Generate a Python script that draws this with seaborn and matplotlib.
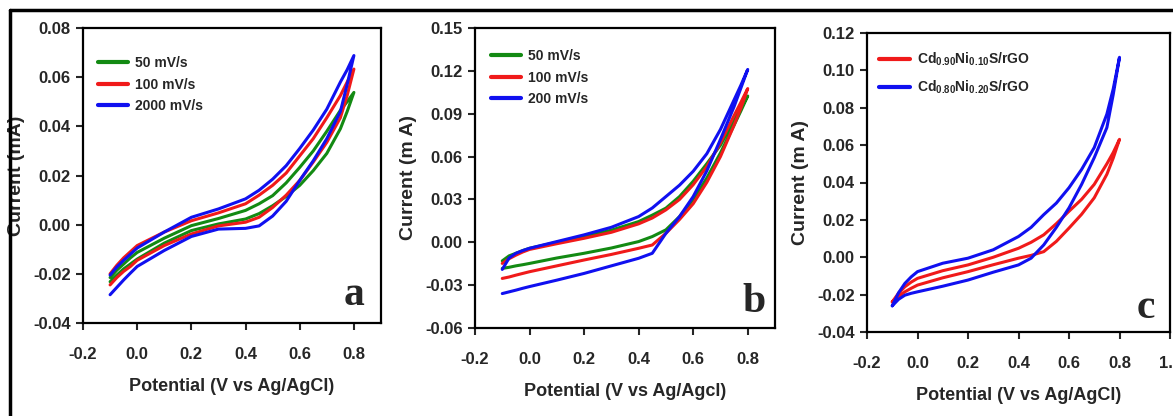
import numpy as np
import pandas as pd
import seaborn as sns
import matplotlib.pyplot as plt
from matplotlib.lines import Line2D

# potential grid (V vs Ag/AgCl), shared by every loop
potential = [-0.1, -0.075, -0.05, -0.025, 0.0, 0.1, 0.2, 0.3, 0.4, 0.45, 0.5, 0.55, 0.6, 0.65, 0.7, 0.75, 0.775, 0.8]

# panel a: scan rates, forward (upper) and reverse (lower) branches, mA
a_labels = ["50 mV/s", "100 mV/s", "2000 mV/s"]
a_50_up = [-0.0215, -0.0185, -0.016, -0.0135, -0.0113, -0.0055, -0.0004, 0.0025, 0.0058, 0.0085, 0.0118, 0.017, 0.0233, 0.030, 0.038, 0.0465, 0.050, 0.0538]
a_50_dn = [-0.0232, -0.0205, -0.018, -0.016, -0.014, -0.0075, -0.0024, 0.0003, 0.0023, 0.0045, 0.0077, 0.0115, 0.016, 0.022, 0.029, 0.039, 0.046, 0.0538]
a_100_up = [-0.020, -0.0165, -0.0135, -0.011, -0.0085, -0.003, 0.0016, 0.0048, 0.0085, 0.012, 0.016, 0.021, 0.028, 0.035, 0.0435, 0.0525, 0.058, 0.0633]
a_100_dn = [-0.0245, -0.0215, -0.019, -0.017, -0.0145, -0.0085, -0.0038, -0.0005, 0.001, 0.003, 0.007, 0.012, 0.018, 0.0255, 0.0335, 0.0435, 0.0525, 0.0633]
a_2000_up = [-0.0205, -0.0172, -0.0145, -0.012, -0.0095, -0.003, 0.003, 0.0064, 0.0105, 0.014, 0.0185, 0.024, 0.031, 0.0385, 0.047, 0.058, 0.063, 0.0688]
a_2000_dn = [-0.0285, -0.0255, -0.0225, -0.0197, -0.017, -0.0105, -0.0048, -0.0018, -0.0015, -0.0005, 0.0035, 0.0095, 0.018, 0.026, 0.035, 0.046, 0.057, 0.0688]

# panel b
b_labels = ["50 mV/s", "100 mV/s", "200 mV/s"]
b_50_up = [-0.013, -0.0095, -0.0077, -0.0058, -0.0042, 0.0, 0.004, 0.0085, 0.0145, 0.019, 0.0239, 0.032, 0.0427, 0.055, 0.068, 0.086, 0.094, 0.1024]
b_50_dn = [-0.0183, -0.0175, -0.0165, -0.0157, -0.0148, -0.011, -0.0077, -0.004, 0.0005, 0.004, 0.0087, 0.018, 0.0298, 0.045, 0.0626, 0.082, 0.092, 0.1024]
b_100_up = [-0.0148, -0.0115, -0.009, -0.0068, -0.005, -0.001, 0.0028, 0.007, 0.0129, 0.017, 0.0227, 0.030, 0.0403, 0.053, 0.0696, 0.0887, 0.098, 0.1076]
b_100_dn = [-0.0253, -0.0243, -0.023, -0.0218, -0.0206, -0.0165, -0.0124, -0.0085, -0.0042, -0.0019, 0.0063, 0.016, 0.027, 0.042, 0.060, 0.082, 0.094, 0.1076]
b_200_up = [-0.019, -0.011, -0.0077, -0.0058, -0.0042, 0.0005, 0.0052, 0.0105, 0.018, 0.024, 0.032, 0.040, 0.0497, 0.062, 0.079, 0.0997, 0.110, 0.121]
b_200_dn = [-0.0359, -0.0347, -0.0335, -0.0322, -0.031, -0.0265, -0.0218, -0.0165, -0.0112, -0.0077, 0.0063, 0.018, 0.032, 0.050, 0.072, 0.095, 0.108, 0.121]

# panel c: two compositions
c_labels = [r"Cd$_{0.90}$Ni$_{0.10}$S/rGO", r"Cd$_{0.80}$Ni$_{0.20}$S/rGO"]
c_10_up = [-0.0239, -0.0192, -0.0158, -0.0133, -0.0113, -0.0072, -0.0041, 0.0, 0.0048, 0.008, 0.012, 0.018, 0.0246, 0.031, 0.039, 0.050, 0.056, 0.0631]
c_10_dn = [-0.0239, -0.021, -0.0185, -0.0166, -0.0149, -0.011, -0.0077, -0.004, -0.0005, 0.001, 0.003, 0.0085, 0.0156, 0.023, 0.0318, 0.0444, 0.053, 0.0631]
c_20_up = [-0.026, -0.019, -0.014, -0.0105, -0.0077, -0.0032, -0.0005, 0.004, 0.0111, 0.016, 0.0228, 0.029, 0.0372, 0.047, 0.0587, 0.0766, 0.090, 0.107]
c_20_dn = [-0.026, -0.0225, -0.0203, -0.0193, -0.0185, -0.0155, -0.0122, -0.008, -0.0041, -0.0005, 0.0066, 0.016, 0.0264, 0.039, 0.0533, 0.0694, 0.087, 0.107]


def loop_frame(labels, branches):
    rows = []
    for lab, (up, dn) in zip(labels, branches):
        xs = list(potential) + list(potential[::-1])
        ys = list(up) + list(dn[::-1])
        for x, y in zip(xs, ys):
            rows.append({"Potential": x, "Current": y, "Series": lab})
    return pd.DataFrame(rows)


sns.set_style("white")
plt.rcParams["font.family"] = ["Liberation Sans", "DejaVu Sans"]
plt.rcParams["font.weight"] = "bold"
plt.rcParams["axes.labelweight"] = "bold"
plt.rcParams["axes.unicode_minus"] = False
plt.rcParams["mathtext.fontset"] = "custom"
plt.rcParams["mathtext.rm"] = "Liberation Sans:bold"
plt.rcParams["mathtext.bf"] = "Liberation Sans:bold"
plt.rcParams["mathtext.default"] = "rm"

GREEN, RED, BLUE = "#138a13", "#f01a1a", "#1010f0"

fig = plt.figure(figsize=(11.73, 4.16), dpi=100)
W, H = 1173, 416


def px_axes(l, r, t, b):
    return fig.add_axes([l / W, (H - b) / H, (r - l) / W, (b - t) / H])


panels = [
    dict(box=(83, 381, 28, 323), df=loop_frame(a_labels, [(a_50_up, a_50_dn), (a_100_up, a_100_dn), (a_2000_up, a_2000_dn)]),
         labels=a_labels, colors=[GREEN, RED, BLUE], ylim=(-0.04, 0.08), yticks=np.arange(-0.04, 0.081, 0.02),
         xlim=(-0.2, 0.9), xticks=[-0.2, 0.0, 0.2, 0.4, 0.6, 0.8], ylabel="Current (mA)", letter="a",
         letter_pos=(0.946, 0.06), leg=(0.05, 0.905), spacing=0.55),
    dict(box=(475, 775, 28, 328), df=loop_frame(b_labels, [(b_50_up, b_50_dn), (b_100_up, b_100_dn), (b_200_up, b_200_dn)]),
         labels=b_labels, colors=[GREEN, RED, BLUE], ylim=(-0.06, 0.15), yticks=np.arange(-0.06, 0.151, 0.03),
         xlim=(-0.2, 0.9), xticks=[-0.2, 0.0, 0.2, 0.4, 0.6, 0.8], ylabel="Current (m A)", letter="b",
         letter_pos=(0.97, 0.053), leg=(0.052, 0.93), spacing=0.55),
    dict(box=(867, 1170, 33, 332), df=loop_frame(c_labels, [(c_10_up, c_10_dn), (c_20_up, c_20_dn)]),
         labels=c_labels, colors=[RED, BLUE], ylim=(-0.04, 0.12), yticks=np.arange(-0.04, 0.121, 0.02),
         xlim=(-0.2, 1.0), xticks=[-0.2, 0.0, 0.2, 0.4, 0.6, 0.8, 1.0], ylabel="Current (m A)", letter="c",
         letter_pos=(0.95, 0.047), leg=(0.04, 0.94), spacing=0.75),
]

for p in panels:
    ax = px_axes(*p["box"])
    sns.lineplot(data=p["df"], x="Potential", y="Current", hue="Series", hue_order=p["labels"],
                 palette=p["colors"], sort=False, estimator=None, lw=2.2, ax=ax)
    ax.set_xlim(*p["xlim"])
    ax.set_ylim(*p["ylim"])
    ax.set_xticks(p["xticks"])
    ax.set_xticklabels([f"{v:.1f}" for v in p["xticks"]])
    ax.set_yticks(p["yticks"])
    ax.set_yticklabels([f"{v:.2f}" for v in p["yticks"]])
    ax.tick_params(axis="both", direction="out", length=5, width=1.5, labelsize=12,
                   top=False, right=False, left=True, bottom=True)
    ax.tick_params(axis="x", pad=12)
    ax.tick_params(axis="y", pad=4)
    for s in ax.spines.values():
        s.set_visible(True)
        s.set_linewidth(1.6)
        s.set_color("black")
    ax.set_xlabel("Potential (V vs Ag/AgCl)" if p["letter"] != "b" else "Potential (V vs Ag/Agcl)",
                  fontsize=13, labelpad=12)
    ax.set_ylabel(p["ylabel"], fontsize=14, labelpad=6)
    handles, labels = ax.get_legend_handles_labels()
    for h in handles:
        h.set_linewidth(3)
    ax.legend(handles, labels, loc="upper left", bbox_to_anchor=p["leg"], frameon=False,
              handlelength=2.2, handletextpad=0.5, labelspacing=p["spacing"],
              borderpad=0, borderaxespad=0, prop={"weight": "bold", "size": 10})
    ax.text(p["letter_pos"][0], p["letter_pos"][1], p["letter"], transform=ax.transAxes,
            ha="right", va="baseline", fontsize=30, fontweight="bold",
            family=["Liberation Serif", "DejaVu Serif"])

# outer frame lines at top and left
fig.add_artist(Line2D([10 / W, 1.0], [1 - 10 / H, 1 - 10 / H], color="black", lw=2.5))
fig.add_artist(Line2D([10 / W, 10 / W], [0.0, 1 - 10 / H], color="black", lw=2.5))

fig.savefig("out.png", dpi=100, facecolor="white")
